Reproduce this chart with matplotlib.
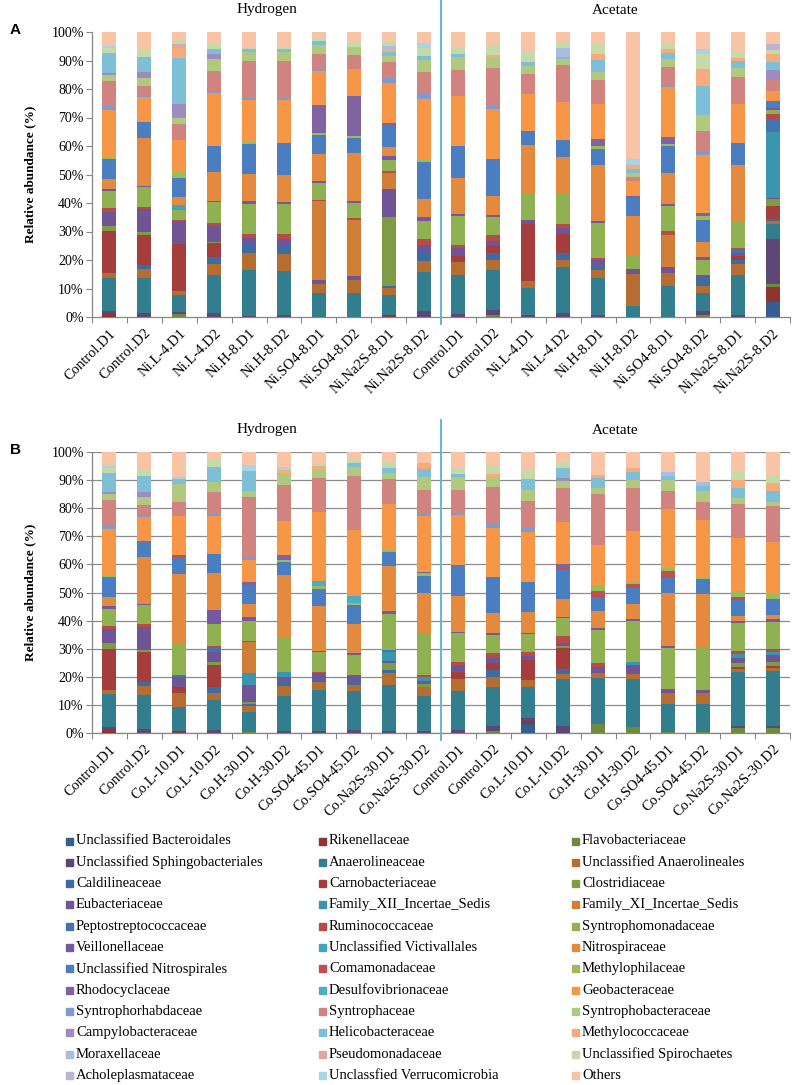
import numpy as np
import matplotlib
matplotlib.use("Agg")
import matplotlib.pyplot as plt
from matplotlib.patches import Rectangle

plt.rcParams["font.family"] = ["Liberation Serif", "DejaVu Serif"]

families = [
    "Unclassified Bacteroidales", "Rikenellaceae", "Flavobacteriaceae",
    "Unclassified Sphingobacteriales", "Anaerolineaceae", "Unclassified Anaerolineales",
    "Caldilineaceae", "Carnobacteriaceae", "Clostridiaceae",
    "Eubacteriaceae", "Family_XII_Incertae_Sedis", "Family_XI_Incertae_Sedis",
    "Peptostreptococcaceae", "Ruminococcaceae", "Syntrophomonadaceae",
    "Veillonellaceae", "Unclassified Victivallales", "Nitrospiraceae",
    "Unclassified Nitrospirales", "Comamonadaceae", "Methylophilaceae",
    "Rhodocyclaceae", "Desulfovibrionaceae", "Geobacteraceae",
    "Syntrophorhabdaceae", "Syntrophaceae", "Syntrophobacteraceae",
    "Campylobacteraceae", "Helicobacteraceae", "Methylococcaceae",
    "Moraxellaceae", "Pseudomonadaceae", "Unclassified Spirochaetes",
    "Acholeplasmataceae", "Unclassfied Verrucomicrobia", "Others",
]

colors = [
    "#355F91", "#8E3432", "#71893F", "#5C4776", "#327D8E", "#B66D31",
    "#3D6BA4", "#A33E3C", "#7D9C44", "#6F5595", "#3A96AE", "#D07E36",
    "#4275B0", "#B84A47", "#8FB152", "#7558A0", "#43A3BD", "#E48A3F",
    "#4B7EC0", "#C0504D", "#9BBB59", "#8064A2", "#4BACC6", "#F79646",
    "#7E9BCF", "#D0837F", "#B0C97E", "#9E8BC0", "#7DBFD6", "#F8AB7A",
    "#A9BCE2", "#E0A6A4", "#C6D9A8", "#BEB2D6", "#A7D5E5", "#F9C3A6",
]

samples_a = ["Control.D1", "Control.D2", "Ni.L-4.D1", "Ni.L-4.D2", "Ni.H-8.D1",
             "Ni.H-8.D2", "Ni.SO4-8.D1", "Ni.SO4-8.D2", "Ni.Na2S-8.D1", "Ni.Na2S-8.D2"]
samples_b = ["Control.D1", "Control.D2", "Co.L-10.D1", "Co.L-10.D2", "Co.H-30.D1",
             "Co.H-30.D2", "Co.SO4-45.D1", "Co.SO4-45.D2", "Co.Na2S-30.D1", "Co.Na2S-30.D2"]

# relative abundance (%) per sample, columns follow `families`
ctrl_h = [
    [0, 1.0, 0, 1.2, 11.5, 1.6, 0, 14.7, 2.0, 4.8, 0, 0, 0, 1.4, 5.8, 1.0, 0, 3.3, 7.1, 0, 0.5, 0, 0, 16.7, 1.2, 9.0, 2.0, 0.8, 6.9, 0, 0, 0, 1.8, 0, 0.7, 4.9],
    [0, 0, 0, 1.3, 12.4, 3.2, 1.2, 10.6, 1.0, 8.2, 0, 0, 0, 0.9, 6.8, 0.5, 0, 16.7, 5.6, 0, 0, 0, 0, 8.7, 0.5, 3.5, 2.8, 2.0, 5.5, 0, 0, 0, 2.5, 0, 0, 6.2],
]
ctrl_a = [
    [0, 0, 0, 0.9, 13.9, 4.4, 0, 2.3, 0, 2.8, 0, 0, 0, 0.9, 10.2, 0.6, 0, 12.6, 11.1, 0, 0, 0, 0, 17.5, 0.6, 8.5, 4.7, 0, 1.0, 0, 0, 0, 2.1, 0, 0, 5.6],
    [0, 0, 0.6, 2.0, 13.8, 3.5, 2.6, 2.3, 0, 2.0, 0, 0, 0, 1.8, 6.4, 0.7, 0, 6.9, 12.9, 0, 0, 0, 0, 17.5, 1.2, 13.2, 3.7, 0, 0, 0.9, 0, 0, 3.3, 0, 0, 4.7],
]
ni_h = [
    [0, 0, 0.9, 0.9, 5.7, 1.6, 0, 16.5, 0, 7.8, 0, 0, 0, 0.5, 3.5, 0, 1.5, 3.0, 6.7, 0, 1.8, 0, 0, 11.1, 0, 5.8, 2.0, 4.8, 16.3, 3.3, 0, 1.5, 1.6, 0, 0, 2.5],
    [0, 0, 0, 1.3, 13.6, 3.7, 2.3, 5.0, 0.4, 5.7, 0, 0, 0, 0.9, 7.4, 0.6, 0, 10.2, 9.0, 0, 0, 0, 0, 18.7, 0.7, 7.0, 4.0, 1.8, 1.8, 0, 0, 0, 1.8, 0, 0, 4.2],
    [0, 0, 0, 0.5, 16.1, 5.8, 3.3, 0, 0, 2.0, 0, 0, 0, 1.5, 10.5, 0.8, 0, 9.7, 10.5, 0, 0.5, 0, 0, 15.0, 0.6, 13.1, 3.0, 0, 1.2, 0, 0, 0, 0.7, 0, 0, 5.1],
    [0, 0, 0, 0.6, 15.4, 6.2, 3.2, 0, 0, 1.8, 0, 0, 0, 1.8, 10.5, 0.8, 0, 9.7, 10.9, 0, 0, 0, 0, 15.4, 0.6, 13.1, 2.9, 0, 1.2, 0, 0, 0, 0.8, 0, 0, 5.1],
    [0, 0, 0, 0, 8.4, 3.2, 0, 0, 0, 1.3, 0, 27.7, 0, 0.6, 5.8, 0.6, 0, 9.6, 6.8, 0, 0.6, 9.7, 0, 11.9, 0.6, 5.5, 3.0, 0, 1.4, 0, 0, 0, 1.2, 0, 0, 2.1],
    [0, 0, 0, 0, 8.4, 4.7, 0, 0, 0, 1.4, 0, 19.6, 0, 0.6, 5.3, 0.6, 0, 17.0, 5.3, 0, 0.6, 14.0, 0, 9.6, 0, 4.8, 2.8, 0, 0, 0, 0, 0, 2.1, 0, 0, 3.3],
    [0, 0.7, 0, 0, 6.9, 2.6, 0.8, 0, 24.0, 10.1, 0, 5.4, 0, 0.7, 4.1, 1.2, 0, 3.2, 7.4, 0, 0, 1.2, 0, 14.0, 1.8, 5.6, 2.2, 0, 1.3, 1.0, 1.2, 0, 1.3, 0, 0, 3.5],
    [0, 0, 0, 2.0, 13.8, 4.0, 3.3, 0, 0, 2.1, 0, 0, 0, 2.3, 6.1, 1.5, 0, 6.4, 13.1, 0, 0.6, 0, 0, 21.4, 1.6, 8.0, 3.9, 0, 1.4, 0, 0, 0, 2.9, 0, 1.8, 3.9],
]
ni_a = [
    [0, 0, 0, 0.8, 9.4, 2.3, 0, 20.2, 0, 1.2, 0, 0, 0, 0, 9.6, 0, 0, 17.0, 4.9, 0, 0, 0, 0, 12.9, 0, 7.0, 2.7, 0, 1.5, 0, 0, 0, 3.5, 0, 0, 7.0],
    [0, 0, 0, 1.3, 16.3, 2.6, 2.3, 6.8, 0, 2.0, 0, 0, 0, 1.4, 10.9, 0, 0, 12.5, 6.0, 0, 0, 0, 0, 13.5, 0, 13.1, 2.0, 0, 0.7, 0, 3.2, 0, 2.6, 0, 0, 3.0],
    [0, 0, 0, 0.6, 13.1, 2.7, 1.8, 0, 0, 1.8, 0, 0, 0, 0.8, 12.3, 0.6, 0, 19.6, 5.8, 0, 0.8, 2.6, 0, 12.4, 0, 8.4, 2.7, 0, 4.3, 2.1, 0, 0, 3.4, 0, 0, 4.2],
    [0, 0, 0, 0, 3.7, 11.3, 0, 0, 0, 1.8, 0, 0, 0, 0, 4.8, 0, 0, 13.9, 6.2, 0, 0, 0.6, 0, 5.3, 0, 1.4, 1.6, 0, 1.4, 1.4, 0, 0, 0, 0, 2.0, 44.6],
    [0, 0, 0, 0, 11.0, 4.4, 0, 0, 0, 2.1, 0, 11.1, 0, 1.6, 8.8, 0.7, 0, 11.0, 9.4, 0, 0.6, 2.5, 0, 17.4, 0.6, 6.4, 2.9, 0, 2.1, 1.4, 0, 0, 2.1, 0, 0, 3.9],
    [0, 0, 0.6, 1.4, 6.4, 2.6, 2.7, 0, 0, 0.9, 0, 0, 0, 0, 5.5, 0.9, 0, 5.3, 7.8, 0, 1.2, 1.2, 0, 20.5, 1.2, 7.0, 5.8, 0, 10.2, 5.8, 0, 0, 5.4, 0, 1.6, 6.0],
    [0, 0, 0, 0.8, 13.8, 4.0, 1.5, 1.2, 0, 1.2, 0, 0, 1.0, 0.8, 9.1, 0, 0, 20.1, 7.4, 0, 0, 0, 0, 14.0, 0, 9.2, 3.3, 0, 2.3, 1.2, 0, 0, 2.3, 0, 0, 6.8],
    [5.3, 5.1, 1.2, 15.8, 5.3, 0.9, 0.6, 4.7, 2.3, 0.4, 23.3, 0, 4.4, 2.0, 1.2, 0.9, 0, 0, 2.3, 0, 0, 0, 0, 3.5, 0, 3.7, 0, 3.6, 2.9, 2.9, 0, 0, 1.2, 2.2, 0, 4.2],
]
co_h = [
    [0, 0.7, 0, 0, 8.7, 5.0, 0, 1.9, 0, 3.6, 0, 0, 0.8, 0, 11.0, 0, 0, 24.9, 5.9, 0.8, 0, 0, 0, 14.0, 0, 5.0, 6.2, 0, 1.8, 0, 0, 0, 0, 0, 0.9, 8.8],
    [0, 0, 0, 1.1, 10.7, 2.4, 2.1, 7.9, 0.9, 3.6, 0, 0, 1.4, 0.8, 7.7, 5.1, 0, 13.3, 6.6, 0, 0, 0, 0, 13.5, 0.7, 7.9, 3.3, 0, 5.6, 0, 0, 0, 2.4, 0, 0, 2.8],
    [0, 0, 0.5, 0, 7.1, 2.0, 0.8, 0, 0.7, 5.9, 4.2, 11.0, 0, 0.5, 7.1, 1.5, 0, 4.5, 6.5, 0, 0, 1.2, 0, 7.9, 0.9, 21.6, 2.0, 0, 7.1, 0, 0, 0, 0, 0, 2.1, 4.6],
    [0, 0, 0, 0.8, 12.5, 3.6, 1.7, 0, 0, 1.3, 2.0, 0, 0, 0, 12.1, 0, 0, 22.3, 4.7, 0, 0.6, 1.8, 0, 12.1, 0, 12.8, 4.2, 0, 0, 1.2, 0, 0, 0, 0, 1.2, 5.2],
    [0, 0, 0, 0.8, 14.4, 2.8, 1.3, 0, 0, 2.0, 0, 0, 0, 0.4, 7.1, 0.5, 0, 16.0, 6.0, 0, 0.8, 0, 1.8, 24.6, 0, 12.2, 3.2, 0, 0, 0.9, 0, 0, 1.2, 0, 0, 3.9],
    [0, 0, 0, 1.1, 14.0, 2.0, 1.5, 0, 0, 2.0, 0, 0, 0, 0, 7.1, 0.6, 0, 10.3, 6.9, 0, 0.8, 0, 2.4, 23.5, 0, 19.2, 3.0, 0, 1.5, 0, 0, 0, 1.2, 0, 0, 2.8],
    [0, 0, 0, 0.7, 16.4, 4.4, 0.9, 0, 2.4, 0.8, 3.3, 0, 0.8, 0, 12.8, 0.8, 0, 16.1, 5.0, 0, 0.6, 0, 0, 16.6, 0, 8.7, 2.4, 0, 1.7, 0, 0, 0, 1.9, 0, 0, 3.7],
    [0, 0, 0, 0.8, 12.5, 3.0, 0, 0, 1.0, 1.2, 1.5, 0, 0, 0.6, 14.8, 0, 0, 14.5, 5.9, 0, 0.9, 0.6, 0, 19.8, 0.7, 8.5, 4.5, 0, 3.0, 2.0, 0, 0, 0, 0, 0, 4.0],
]
co_a = [
    [3.1, 1.2, 0, 1.2, 10.7, 2.6, 0, 7.2, 0, 1.4, 0, 0, 0, 1.3, 6.4, 0.6, 0, 7.2, 10.7, 0, 0, 0, 0, 18.0, 1.2, 9.7, 3.9, 0, 3.8, 0, 0, 0, 3.3, 0, 0, 6.4],
    [0, 0, 0, 2.5, 16.6, 1.9, 1.7, 7.5, 0.8, 0.9, 0, 0, 0, 2.6, 6.5, 0.4, 0, 6.3, 10.3, 0.8, 0, 1.2, 0, 14.9, 0, 12.3, 2.4, 0.9, 3.6, 0, 0, 0, 2.1, 0, 0, 3.7],
    [0, 0, 3.2, 0, 16.3, 1.8, 0, 0, 0, 2.1, 0, 0, 0, 1.4, 11.9, 0.6, 0, 5.9, 5.3, 2.1, 2.0, 0, 0, 14.2, 0, 18.0, 2.4, 0, 3.3, 1.2, 0, 0, 0, 0, 0, 8.2],
    [0, 0, 2.3, 0, 16.8, 1.8, 0, 0, 0, 3.3, 1.0, 0, 0, 0, 14.5, 0.9, 0, 5.3, 5.8, 1.3, 1.1, 0, 0, 17.8, 0, 15.4, 2.7, 0, 3.0, 1.2, 0, 0, 0, 0, 0, 5.8],
    [0, 0, 0.5, 0, 9.8, 3.8, 0, 0, 0, 1.4, 0, 0, 0, 0, 14.8, 0.6, 0, 18.7, 5.3, 2.7, 0.8, 0, 0, 21.0, 0, 6.5, 3.9, 0, 1.4, 0, 1.5, 0, 0, 0, 0, 7.0],
    [0, 0, 0.5, 0, 9.8, 3.8, 0, 0, 0, 1.2, 0, 0, 0, 0, 14.8, 0, 0, 19.3, 5.2, 0, 0.9, 0, 0, 20.2, 0, 6.5, 3.9, 0, 1.8, 0, 1.4, 0, 0, 0, 0, 10.6],
    [0, 0, 1.9, 0.7, 19.2, 0.9, 0, 0.8, 1.5, 1.8, 1.2, 0, 0, 1.1, 10.1, 0.7, 0, 1.7, 5.7, 1.2, 2.1, 0, 0, 18.9, 0, 11.9, 2.1, 0, 3.8, 2.7, 0, 0, 3.0, 0, 0, 7.0],
    [0, 0, 1.7, 0.8, 19.7, 0.8, 0, 0.8, 1.3, 2.6, 1.0, 0, 0, 1.1, 9.8, 0.8, 0, 1.5, 5.7, 0, 1.8, 0, 0, 18.6, 0, 12.7, 1.5, 0, 3.8, 3.0, 0, 0, 2.7, 0, 0, 8.2],
]

W, H = 800, 1085
fig = plt.figure(figsize=(W / 100, H / 100), dpi=100)


def draw_panel(top, bottom, rows, labels, grid, letter):
    ax = fig.add_axes([92 / W, 1 - bottom / H, (790 - 92) / W, (bottom - top) / H])
    vals = np.array(rows, dtype=float)
    vals = vals / vals.sum(axis=1, keepdims=True) * 100
    x = np.arange(len(labels))
    base = np.zeros(len(labels))
    for j, fam in enumerate(families):
        ax.bar(x, vals[:, j], bottom=base, width=0.4, color=colors[j], linewidth=0, zorder=3)
        base += vals[:, j]

    ax.set_xlim(-0.5, len(labels) - 0.5)
    ax.set_ylim(0, 100)
    ax.set_yticks(np.arange(0, 101, 10))
    ax.set_yticklabels([f"{v}%" for v in range(0, 101, 10)], fontsize=10)
    ax.set_xticks(x)
    ax.set_xticklabels(labels, rotation=45, ha="right", va="top",
                       rotation_mode="anchor", fontsize=10.5)
    ax.set_xticks(np.arange(-0.5, len(labels), 1), minor=True)
    ax.tick_params(axis="x", which="major", length=0, pad=7)
    ax.tick_params(axis="x", which="minor", length=4, color="#868686", width=0.8)
    ax.tick_params(axis="y", length=4, color="#868686", width=0.8, pad=2)
    for s in ["top", "right"]:
        ax.spines[s].set_visible(False)
    for s in ["left", "bottom"]:
        ax.spines[s].set_color("#868686")
        ax.spines[s].set_linewidth(0.9)
    if grid:
        ax.yaxis.grid(True, color="#8c8c8c", linewidth=0.9, zorder=0)
    ax.set_ylabel("Relative abundance (%)", fontsize=9.5, fontweight="bold", labelpad=11)

    # light blue line splitting Hydrogen / Acetate
    ppx = (bottom - top) / 100.0
    ax.plot([9.5, 9.5], [100 + 32 / ppx, -2.5],
            color="#63B7D6", linewidth=1.4, clip_on=False, zorder=4)
    ax.text(4.5, 100 + 22 / ppx, "Hydrogen", ha="center", va="center", fontsize=11)
    ax.text(14.5, 100 + 22 / ppx, "Acetate", ha="center", va="center", fontsize=11)
    fig.text(10 / W, 1 - (top - 2) / H, letter, fontsize=11, fontweight="bold",
             family=["Liberation Sans", "DejaVu Sans"], ha="left", va="center")
    return ax


draw_panel(32, 317, ctrl_h + ni_h + ctrl_a + ni_a, samples_a + samples_a, False, "A")
draw_panel(452, 733, ctrl_h + co_h + ctrl_a + co_a, samples_b + samples_b, True, "B")

# legend: 3 columns, filled row by row
col_x = [66, 319, 572]
for i, fam in enumerate(families):
    r, c = divmod(i, 3)
    y = 841 + r * 21.3
    fig.patches.append(Rectangle((col_x[c] / W, 1 - (y + 3.5) / H), 7 / W, 7 / H,
                                 transform=fig.transFigure, color=colors[i]))
    fig.text((col_x[c] + 10) / W, 1 - y / H, fam, fontsize=10.5, ha="left", va="center")

fig.savefig("out.png", dpi=100)
